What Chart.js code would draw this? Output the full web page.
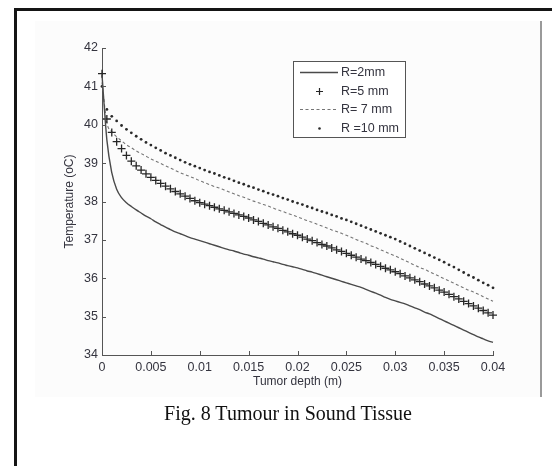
<!DOCTYPE html>
<html>
<head>
<meta charset="utf-8">
<script src="https://cdn.jsdelivr.net/npm/chart.js@4.4.0/dist/chart.umd.min.js"></script>
<style>
    html, body { margin: 0; padding: 0; background: #fff; }
    #page { position: relative; width: 552px; height: 466px; overflow: hidden; }
    #frame { position: absolute; left: 14px; top: 8px; width: 600px; height: 500px;
             border-top: 3px solid #151515; border-left: 3px solid #151515; }
    #panel { position: absolute; left: 35px; top: 21px; width: 505px; height: 376px;
             background: #fcfcfc; border-right: 2px solid #9a9a9a; }
    #caption { position: absolute; left: 0; width: 576px; top: 403px; line-height: 20px;
               text-align: center; font-size: 20px; color: #111;
               font-family: "Liberation Serif", "Times New Roman", serif; }
    #chart { position: absolute; left: 0; top: 0; }
</style>
</head>
<body>
<div id="page">
    <div id="frame"></div>
    <div id="panel"></div>
    <canvas id="chart" width="552" height="466"></canvas>
    <div id="caption">Fig. 8 Tumour in Sound Tissue</div>
</div>
<script>
// Глубина опухоли (м)
var depth = [
    0, 0.0005, 0.001, 0.0015, 0.002, 0.0025, 0.003, 0.0035, 0.004, 0.0045,
    0.005, 0.0055, 0.006, 0.0065, 0.007, 0.0075, 0.008, 0.0085, 0.009, 0.0095,
    0.01, 0.0105, 0.011, 0.0115, 0.012, 0.0125, 0.013, 0.0135, 0.014, 0.0145,
    0.015, 0.0155, 0.016, 0.0165, 0.017, 0.0175, 0.018, 0.0185, 0.019, 0.0195,
    0.02, 0.0205, 0.021, 0.0215, 0.022, 0.0225, 0.023, 0.0235, 0.024, 0.0245,
    0.025, 0.0255, 0.026, 0.0265, 0.027, 0.0275, 0.028, 0.0285, 0.029, 0.0295,
    0.03, 0.0305, 0.031, 0.0315, 0.032, 0.0325, 0.033, 0.0335, 0.034, 0.0345,
    0.035, 0.0355, 0.036, 0.0365, 0.037, 0.0375, 0.038, 0.0385, 0.039, 0.0395,
    0.04
];

// Температура (oC) для каждого радиуса
var tempR2 = [
    41.30, 39.60, 38.75, 38.32, 38.10, 37.97, 37.87, 37.78, 37.70, 37.62,
    37.55, 37.47, 37.40, 37.33, 37.27, 37.21, 37.16, 37.11, 37.06, 37.02,
    36.98, 36.94, 36.90, 36.86, 36.82, 36.78, 36.74, 36.71, 36.67, 36.63,
    36.60, 36.56, 36.53, 36.50, 36.46, 36.43, 36.40, 36.36, 36.33, 36.30,
    36.27, 36.23, 36.19, 36.16, 36.12, 36.08, 36.04, 36.00, 35.96, 35.92,
    35.88, 35.84, 35.80, 35.76, 35.71, 35.66, 35.61, 35.56, 35.50, 35.45,
    35.41, 35.37, 35.33, 35.28, 35.23, 35.18, 35.12, 35.07, 35.01, 34.95,
    34.89, 34.83, 34.77, 34.71, 34.65, 34.59, 34.53, 34.47, 34.42, 34.37,
    34.33
];
var tempR5 = [
    41.33, 40.15, 39.80, 39.56, 39.38, 39.20, 39.05, 38.93, 38.82, 38.72,
    38.63, 38.55, 38.47, 38.40, 38.33, 38.26, 38.20, 38.14, 38.08, 38.02,
    37.97, 37.93, 37.89, 37.85, 37.81, 37.77, 37.73, 37.69, 37.65, 37.61,
    37.57, 37.52, 37.48, 37.43, 37.39, 37.34, 37.30, 37.25, 37.21, 37.16,
    37.12, 37.07, 37.02, 36.98, 36.93, 36.88, 36.84, 36.79, 36.74, 36.70,
    36.65, 36.60, 36.55, 36.50, 36.46, 36.41, 36.36, 36.31, 36.26, 36.22,
    36.17, 36.12, 36.06, 36.01, 35.96, 35.91, 35.85, 35.80, 35.75, 35.69,
    35.64, 35.58, 35.52, 35.46, 35.40, 35.34, 35.28, 35.22, 35.16, 35.10,
    35.04
];
var tempR7 = [
    41.10, 40.05, 39.82, 39.69, 39.58, 39.48, 39.40, 39.32, 39.25, 39.18,
    39.11, 39.05, 38.99, 38.93, 38.87, 38.81, 38.75, 38.70, 38.65, 38.60,
    38.54, 38.49, 38.44, 38.39, 38.35, 38.30, 38.25, 38.20, 38.15, 38.11,
    38.06, 38.01, 37.97, 37.92, 37.88, 37.83, 37.78, 37.74, 37.69, 37.65,
    37.60, 37.55, 37.50, 37.46, 37.41, 37.36, 37.31, 37.26, 37.22, 37.17,
    37.12, 37.07, 37.01, 36.96, 36.91, 36.85, 36.80, 36.74, 36.69, 36.63,
    36.58, 36.52, 36.46, 36.40, 36.34, 36.28, 36.23, 36.17, 36.11, 36.05,
    35.99, 35.93, 35.87, 35.81, 35.75, 35.69, 35.64, 35.58, 35.52, 35.46,
    35.40
];
var tempR10 = [
    41.00, 40.40, 40.22, 40.10, 39.98, 39.88, 39.79, 39.70, 39.62, 39.54,
    39.47, 39.40, 39.33, 39.26, 39.20, 39.14, 39.08, 39.02, 38.97, 38.92,
    38.87, 38.82, 38.77, 38.73, 38.68, 38.63, 38.59, 38.54, 38.49, 38.45,
    38.40, 38.36, 38.31, 38.27, 38.22, 38.18, 38.14, 38.09, 38.05, 38.00,
    37.96, 37.92, 37.87, 37.83, 37.78, 37.74, 37.70, 37.65, 37.61, 37.56,
    37.52, 37.47, 37.42, 37.37, 37.32, 37.27, 37.22, 37.17, 37.12, 37.07,
    37.02, 36.96, 36.90, 36.84, 36.78, 36.72, 36.66, 36.60, 36.54, 36.48,
    36.42, 36.35, 36.29, 36.22, 36.15, 36.08, 36.02, 35.95, 35.88, 35.82,
    35.75
];

var seriesLabels = ['R=2mm', 'R=5 mm', 'R= 7 mm', 'R =10 mm'];
var xTickValues = [0, 0.005, 0.01, 0.015, 0.02, 0.025, 0.03, 0.035, 0.04];
var xTickLabels = ['0', '0.005', '0.01', '0.015', '0.02', '0.025', '0.03', '0.035', '0.04'];
var yTickValues = [34, 35, 36, 37, 38, 39, 40, 41, 42];
var yTickLabels = ['34', '35', '36', '37', '38', '39', '40', '41', '42'];

function toPoints(values) {
    return depth.map(function(d, i) { return { x: d, y: values[i] }; });
}

var textColor = '#34343f';
var fontFamily = '"Liberation Sans", Arial, sans-serif';

// Рисуем засечки внутрь и легенду в рамке
var matlabPlugin = {
    id: 'matlabStyle',
    afterDraw: function(chart) {
        var ctx = chart.ctx;
        var xs = chart.scales.x, ys = chart.scales.y;
        var area = chart.chartArea;
        ctx.save();
        ctx.strokeStyle = '#555';
        ctx.lineWidth = 1;
        ctx.beginPath();
        xs.ticks.forEach(function(t) {
            var px = Math.round(xs.getPixelForValue(t.value)) + 0.5;
            ctx.moveTo(px, area.bottom);
            ctx.lineTo(px, area.bottom - 4);
        });
        ys.ticks.forEach(function(t) {
            var py = Math.round(ys.getPixelForValue(t.value)) + 0.5;
            ctx.moveTo(area.left, py);
            ctx.lineTo(area.left + 4, py);
        });
        ctx.stroke();

        // легенда
        ctx.fillStyle = '#fff';
        ctx.fillRect(293, 61, 113, 77);
        ctx.strokeStyle = '#555';
        ctx.strokeRect(293.5, 61.5, 112, 76);
        var rows = [72, 91, 109, 128];
        ctx.font = '12.5px ' + fontFamily;
        ctx.textBaseline = 'middle';
        ctx.textAlign = 'left';
        chart.data.datasets.forEach(function(ds, i) {
            var y = rows[i];
            ctx.save();
            if (i === 0 || i === 2) {
                ctx.strokeStyle = ds.borderColor;
                ctx.lineWidth = ds.borderWidth;
                ctx.setLineDash(ds.borderDash || []);
                ctx.beginPath();
                ctx.moveTo(300, y + 0.5);
                ctx.lineTo(338, y + 0.5);
                ctx.stroke();
            } else if (i === 1) {
                ctx.strokeStyle = ds.pointBorderColor;
                ctx.lineWidth = 1.2;
                ctx.beginPath();
                ctx.moveTo(316, y + 0.5); ctx.lineTo(323, y + 0.5);
                ctx.moveTo(319.5, y - 3); ctx.lineTo(319.5, y + 4);
                ctx.stroke();
            } else {
                ctx.fillStyle = ds.pointBackgroundColor;
                ctx.beginPath();
                ctx.arc(319.5, y + 0.5, 1.3, 0, Math.PI * 2);
                ctx.fill();
            }
            ctx.restore();
            ctx.fillStyle = textColor;
            ctx.fillText(ds.label, 341, y + 1);
        });
        ctx.restore();
    }
};

function createChart() {
    var canvas = document.getElementById('chart');
    new Chart(canvas, {
        type: 'line',
        data: {
            datasets: [
                {
                    label: seriesLabels[0],
                    data: toPoints(tempR2),
                    borderColor: '#4a4a4a',
                    borderWidth: 1.4,
                    pointRadius: 0,
                    cubicInterpolationMode: 'monotone',
                    clip: false
                },
                {
                    label: seriesLabels[1],
                    data: toPoints(tempR5),
                    showLine: false,
                    pointStyle: 'cross',
                    pointRadius: 4,
                    pointBorderWidth: 1.3,
                    pointBorderColor: '#262626',
                    borderColor: '#262626',
                    clip: false
                },
                {
                    label: seriesLabels[2],
                    data: toPoints(tempR7),
                    borderColor: '#757575',
                    borderWidth: 1.1,
                    borderDash: [3, 2.5],
                    pointRadius: 0,
                    cubicInterpolationMode: 'monotone',
                    clip: false
                },
                {
                    label: seriesLabels[3],
                    data: toPoints(tempR10),
                    showLine: false,
                    pointStyle: 'circle',
                    pointRadius: 1.4,
                    pointBorderWidth: 0,
                    pointBackgroundColor: '#2a2a2a',
                    borderColor: '#2a2a2a',
                    clip: false
                }
            ]
        },
        options: {
            responsive: false,
            animation: false,
            layout: { padding: { left: 0, right: 59, top: 48, bottom: 71 } },
            plugins: { legend: { display: false }, tooltip: { enabled: false } },
            scales: {
                x: {
                    type: 'linear',
                    min: 0,
                    max: 0.04,
                    afterBuildTicks: function(scale) {
                        scale.ticks = xTickValues.map(function(v) { return { value: v }; });
                    },
                    afterFit: function(scale) { scale.height = 40; },
                    grid: { display: false, drawTicks: false },
                    border: { display: true, color: '#555', width: 1 },
                    ticks: {
                        padding: 5,
                        color: textColor,
                        font: { size: 12.5, family: fontFamily },
                        maxRotation: 0,
                        callback: function(v, i) { return xTickLabels[i]; }
                    },
                    title: {
                        display: true,
                        text: 'Tumor depth (m)',
                        color: textColor,
                        font: { size: 12, family: fontFamily },
                        padding: { top: 0, bottom: 6 }
                    }
                },
                y: {
                    type: 'linear',
                    min: 34,
                    max: 42,
                    afterBuildTicks: function(scale) {
                        scale.ticks = yTickValues.map(function(v) { return { value: v }; });
                    },
                    afterFit: function(scale) { scale.width = 102; },
                    grid: { display: false, drawTicks: false },
                    border: { display: true, color: '#555', width: 1 },
                    ticks: {
                        padding: 4,
                        color: textColor,
                        font: { size: 12.5, family: fontFamily },
                        callback: function(v, i) { return yTickLabels[i]; }
                    },
                    title: {
                        display: true,
                        text: 'Temperature (oC)',
                        color: textColor,
                        font: { size: 12, family: fontFamily },
                        padding: { top: 62, bottom: 0 }
                    }
                }
            }
        },
        plugins: [matlabPlugin]
    });
}

document.addEventListener('DOMContentLoaded', function() {
    createChart();
});
</script>
</body>
</html>
